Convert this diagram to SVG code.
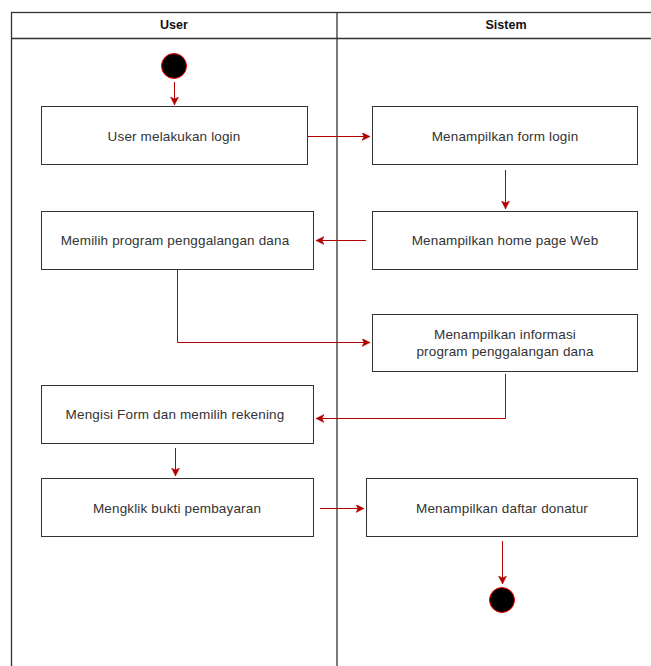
<svg xmlns="http://www.w3.org/2000/svg" width="651" height="666" viewBox="0 0 651 666">
<style>
.lane{fill:none;stroke:#333;stroke-width:1.3}
.box{fill:#fff;stroke:#333;stroke-width:1}
.t{font-family:"Liberation Sans",Arial,sans-serif;font-size:13.5px;letter-spacing:0.15px;fill:#333;text-anchor:middle;dominant-baseline:central}
.h{font-family:"Liberation Sans",Arial,sans-serif;font-size:12.5px;font-weight:bold;fill:#111;text-anchor:middle;dominant-baseline:central}
.c{fill:none;stroke:#B20000;stroke-width:1;marker-end:url(#ah)}
.dot{fill:#000;stroke:#f00;stroke-width:1}
</style>
<defs>
<marker id="ah" markerWidth="10" markerHeight="10" refX="8" refY="4" orient="auto" markerUnits="userSpaceOnUse">
<path d="M0,0 L8,4 L0,8 L2,4 Z" fill="#B20000" stroke="#B20000" stroke-width="0.5"/>
</marker>
</defs>
<rect width="651" height="666" fill="#fff"/>
<g id="pool">
<rect class="lane" x="11.5" y="12.5" width="680" height="700"/>
<line class="lane" x1="11.5" y1="38.5" x2="680" y2="38.5"/>
<line class="lane" x1="337" y1="12.5" x2="337" y2="666"/>
<text class="h" x="174" y="25">User</text>
<text class="h" x="506" y="25">Sistem</text>
</g>
<g id="start"><circle class="dot" cx="174" cy="66" r="12.5"/></g>
<g id="n1"><rect class="box" x="41.5" y="106.5" width="266" height="58"/><text class="t" x="174" y="136">User melakukan login</text></g>
<g id="n2"><rect class="box" x="372.5" y="106.5" width="265" height="58"/><text class="t" x="505" y="136">Menampilkan form login</text></g>
<g id="n3"><rect class="box" x="372.5" y="211.5" width="265" height="58"/><text class="t" x="505" y="240">Menampilkan home page Web</text></g>
<g id="n4"><rect class="box" x="41.5" y="211.5" width="272" height="58"/><text class="t" x="175" y="240">Memilih program penggalangan dana</text></g>
<g id="n5"><rect class="box" x="372.5" y="314.5" width="265" height="57"/><text class="t" x="505" y="334">Menampilkan informasi</text><text class="t" x="505" y="351">program penggalangan dana</text></g>
<g id="n6"><rect class="box" x="41.5" y="385.5" width="272" height="58"/><text class="t" x="175" y="414">Mengisi Form dan memilih rekening</text></g>
<g id="n7"><rect class="box" x="41.5" y="478.5" width="272" height="58"/><text class="t" x="177" y="508">Mengklik bukti pembayaran</text></g>
<g id="n8"><rect class="box" x="366.5" y="478.5" width="271" height="58"/><text class="t" x="502" y="508">Menampilkan daftar donatur</text></g>
<g id="end"><circle class="dot" cx="502" cy="600" r="12.5"/></g>
<g id="connectors">
<path class="c" d="M174.5,82 L174.5,105"/>
<path class="c" d="M307,136.5 L370,136.5"/>
<path class="c" d="M505.5,170 L505.5,209"/>
<path class="c" d="M366,240.5 L316,240.5"/>
<path class="c" d="M177.5,270 L177.5,342.5 L370,342.5"/>
<path class="c" d="M505.5,374 L505.5,418.5 L316,418.5"/>
<path class="c" d="M175.5,448 L175.5,476"/>
<path class="c" d="M320,508.5 L364,508.5"/>
<path class="c" d="M502.5,541 L502.5,584"/>
</g>
</svg>
